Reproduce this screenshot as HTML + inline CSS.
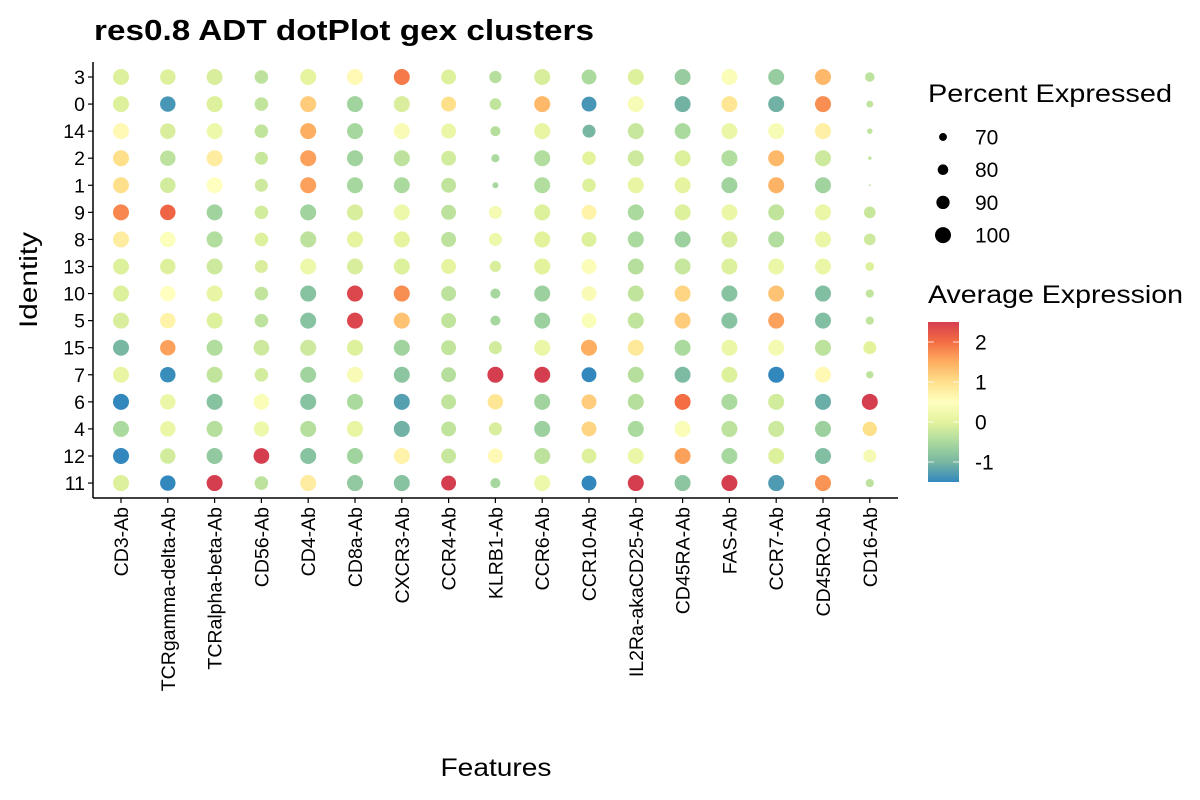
<!DOCTYPE html>
<html><head><meta charset="utf-8"><style>
html,body{margin:0;padding:0;background:#fff;}
svg{display:block;font-family:"Liberation Sans",Arial,sans-serif;}
</style></head><body>
<svg id="chart" width="1200" height="800" viewBox="0 0 1200 800">
<defs>
<linearGradient id="cbar" x1="0" y1="1" x2="0" y2="0">
<stop offset="0" stop-color="#3288BD"/><stop offset="0.125" stop-color="#78B7A2"/><stop offset="0.25" stop-color="#ABDA9E"/><stop offset="0.375" stop-color="#E3F39C"/><stop offset="0.5" stop-color="#FFFFBF"/><stop offset="0.625" stop-color="#FEE08B"/><stop offset="0.75" stop-color="#FDAE61"/><stop offset="0.875" stop-color="#F46D43"/><stop offset="1" stop-color="#D53E4F"/>
</linearGradient>
</defs>
<text x="94" y="40" font-size="29" font-weight="bold" textLength="500" lengthAdjust="spacingAndGlyphs">res0.8 ADT dotPlot gex clusters</text>
<g id="plot"></g>
<line x1="93" y1="62" x2="93" y2="498" stroke="#000" stroke-width="1.5"/>
<line x1="93" y1="498" x2="898" y2="498" stroke="#000" stroke-width="1.5"/>
<text transform="translate(37,280) rotate(-90)" text-anchor="middle" font-size="25" textLength="96" lengthAdjust="spacingAndGlyphs">Identity</text>
<text x="496" y="776" text-anchor="middle" font-size="25" textLength="111" lengthAdjust="spacingAndGlyphs">Features</text>
<g>
<text x="928" y="102" font-size="25" textLength="244" lengthAdjust="spacingAndGlyphs">Percent Expressed</text>
<g id="sizeLegend"></g>
</g>
<g>
<text x="928" y="303" font-size="25" textLength="255" lengthAdjust="spacingAndGlyphs">Average Expression</text>
<rect x="928" y="322" width="31" height="160" fill="url(#cbar)"/>
<g id="colorLegend"></g>
</g>
</svg>
<script>
const features = ["CD3-Ab","TCRgamma-delta-Ab","TCRalpha-beta-Ab","CD56-Ab","CD4-Ab","CD8a-Ab","CXCR3-Ab","CCR4-Ab","KLRB1-Ab","CCR6-Ab","CCR10-Ab","IL2Ra-akaCD25-Ab","CD45RA-Ab","FAS-Ab","CCR7-Ab","CD45RO-Ab","CD16-Ab"];
const identities = ["3","0","14","2","1","9","8","13","10","5","15","7","6","4","12","11"];
// avgExp[feature][identity-row]
const avgExp = [
[-0.05,-0.05,0.6,1.0,1.0,1.8,0.8,-0.05,-0.05,-0.1,-1.0,0.1,-1.5,-0.5,-1.5,-0.05],
[-0.05,-1.35,-0.1,-0.35,-0.15,2.1,0.45,-0.05,0.5,0.7,1.6,-1.45,0.15,0.15,-0.15,-1.5],
[-0.1,-0.05,0.2,0.8,0.5,-0.6,-0.45,-0.2,0.1,-0.05,-0.45,-0.3,-0.85,-0.4,-0.75,2.5],
[-0.35,-0.3,-0.3,-0.25,-0.2,-0.15,-0.05,-0.1,-0.3,-0.35,-0.2,-0.15,0.4,0.2,2.5,-0.35],
[0.05,1.2,1.5,1.6,1.6,-0.6,-0.35,0.2,-0.85,-0.85,-0.2,-0.6,-0.85,-0.4,-0.85,0.8],
[0.6,-0.6,-0.55,-0.6,-0.55,-0.1,0.05,-0.1,2.4,2.4,-0.05,0.35,-0.5,0.1,-0.6,-0.75],
[1.9,-0.1,0.35,-0.35,-0.5,0.2,0.05,-0.05,1.75,1.3,-0.6,-0.8,-1.25,-1.05,0.7,-0.85],
[-0.05,1.0,0.15,-0.15,-0.3,-0.35,-0.35,0.05,-0.35,-0.3,-0.3,-0.4,-0.3,-0.3,-0.25,2.5],
[-0.4,-0.3,-0.4,-0.5,-0.55,0.3,0.2,-0.1,-0.55,-0.55,-0.15,2.5,0.9,-0.1,0.6,-0.55],
[-0.1,1.4,0.1,-0.45,-0.45,-0.05,0.0,0.0,-0.65,-0.65,0.15,2.5,-0.6,-0.65,-0.35,0.2],
[-0.5,-1.35,-1.0,0.0,-0.05,0.7,-0.05,0.4,0.35,0.4,1.5,-1.5,1.2,1.1,-0.05,-1.5],
[-0.05,0.35,-0.25,-0.2,0.1,-0.5,-0.5,-0.4,-0.3,-0.3,0.85,-0.4,-0.4,-0.5,0.15,2.5],
[-0.7,-1.05,-0.5,-0.05,0.05,-0.05,-0.65,-0.25,1.1,1.2,-0.5,-0.95,2.0,0.4,1.6,-0.8],
[0.4,0.9,0.15,-0.45,-0.6,0.15,-0.1,-0.05,-0.85,-0.85,0.15,-0.05,-0.5,-0.35,-0.55,2.5],
[-0.7,-1.05,0.35,1.4,1.45,-0.3,-0.45,0.15,1.3,1.6,0.3,-1.5,-0.15,-0.2,-0.05,-1.3],
[1.4,1.75,0.75,-0.2,-0.6,0.15,0.15,0.15,-0.9,-0.9,-0.35,0.6,-1.1,-0.65,-0.9,1.7],
[-0.35,-0.3,-0.3,-0.3,-0.3,-0.25,-0.2,-0.05,-0.3,-0.3,0.0,-0.35,2.5,1.0,0.3,-0.35]
];
const pctExp = [
[100,100,100,100,100,100,100,100,100,100,100,100,100,100,100,100],
[98,98,98,98,98,98,98,98,98,98,98,98,98,98,98,98],
[100,100,100,100,100,100,100,100,100,100,100,100,100,100,100,100],
[91,91,91,89,89,91,91,89,91,91,99,91,99,97,99,91],
[100,100,100,100,100,100,100,100,100,100,100,100,100,100,100,100],
[100,100,100,100,100,100,100,100,100,100,100,100,100,100,100,100],
[100,100,100,100,100,100,100,100,100,100,100,100,100,100,100,100],
[96,96,96,96,96,96,96,96,96,96,96,96,96,96,96,96],
[86,84,78,71,63,89,89,82,78,78,89,100,98,89,96,78],
[100,100,100,100,100,100,100,100,100,100,100,100,100,100,100,100],
[96,96,89,91,91,96,96,96,96,96,100,96,96,96,96,96],
[100,100,100,100,100,100,100,100,100,100,100,100,100,100,100,100],
[100,100,100,100,100,100,100,100,100,100,100,100,100,100,100,100],
[100,100,100,100,100,100,100,100,100,100,100,100,100,100,100,100],
[100,100,100,100,100,100,100,100,100,100,100,100,100,100,100,100],
[100,100,100,100,100,100,100,100,100,100,100,100,100,100,100,100],
[76,66,61,53,48,84,84,73,71,71,89,68,100,94,89,71]
];
const sizeLegendValues = [70,80,90,100];
const colorTicks = [2,1,0,-1];

const NS="http://www.w3.org/2000/svg";
function xScale(i){return 121+i*46.8;}
function yScale(j){return 77+j*27.07;}
function rScale(p){return Math.max(0.6,0.135*p-5.5);}
const cMin=-1.5,cMax=2.5;
function cY(v){return 482-(v-cMin)/(cMax-cMin)*160;}
const stops=["#3288BD","#78B7A2","#ABDA9E","#E3F39C","#FFFFBF","#FEE08B","#FDAE61","#F46D43","#D53E4F"];
function hex(h){return [1,3,5].map(k=>parseInt(h.substr(k,2),16));}
function color(v){
  let t=(Math.min(cMax,Math.max(cMin,v))-cMin)/(cMax-cMin)*(stops.length-1);
  let i=Math.min(stops.length-2,Math.floor(t)),f=t-i;
  const a=hex(stops[i]),b=hex(stops[i+1]);
  return "rgb("+a.map((x,k)=>Math.round(x+(b[k]-x)*f)).join(",")+")";
}
function mk(tag,attrs,parent){const e=document.createElementNS(NS,tag);for(const k in attrs)e.setAttribute(k,attrs[k]);parent.appendChild(e);return e;}
const plot=document.getElementById("plot");
features.forEach((f,i)=>{
  identities.forEach((id,j)=>{
    const c=mk("circle",{cx:xScale(i),cy:yScale(j),r:rScale(pctExp[i][j]),fill:color(avgExp[i][j])},plot);
    
    
  });
  const t=mk("line",{x1:xScale(i),x2:xScale(i),y1:498,y2:503,stroke:"#000","stroke-width":1.2},plot);
  
  
  const l=mk("text",{transform:"translate("+(xScale(i)+7)+",507) rotate(-90)","text-anchor":"end","font-size":"19.5"},plot);
  l.textContent=f;
  
  
});
identities.forEach((id,j)=>{
  const t=mk("line",{x1:88,x2:93,y1:yScale(j),y2:yScale(j),stroke:"#000","stroke-width":1.2},plot);
  
  
  const l=mk("text",{x:85,y:yScale(j)+7,"text-anchor":"end","font-size":"19.5"},plot);
  l.textContent=id;
  
  
});
const sl=document.getElementById("sizeLegend");
sizeLegendValues.forEach((v,k)=>{
  const y=137+k*32.7;
  const c=mk("circle",{cx:943,cy:y,r:rScale(v),fill:"#000"},sl);
  
  
  const t=mk("text",{x:975,y:y+7.5,"font-size":"21"},sl);
  t.textContent=v;
  
  
});
const cl=document.getElementById("colorLegend");
colorTicks.forEach(v=>{
  const y=cY(v);
  const a=mk("line",{x1:928,x2:934,y1:y,y2:y,stroke:"#fff","stroke-width":1,opacity:0.8},cl);
  
  
  const b=mk("line",{x1:953,x2:959,y1:y,y2:y,stroke:"#fff","stroke-width":1,opacity:0.8},cl);
  
  
  const t=mk("text",{x:975,y:y+7.5,"font-size":"21"},cl);
  t.textContent=v;
  
  
});
</script>
</body></html>
